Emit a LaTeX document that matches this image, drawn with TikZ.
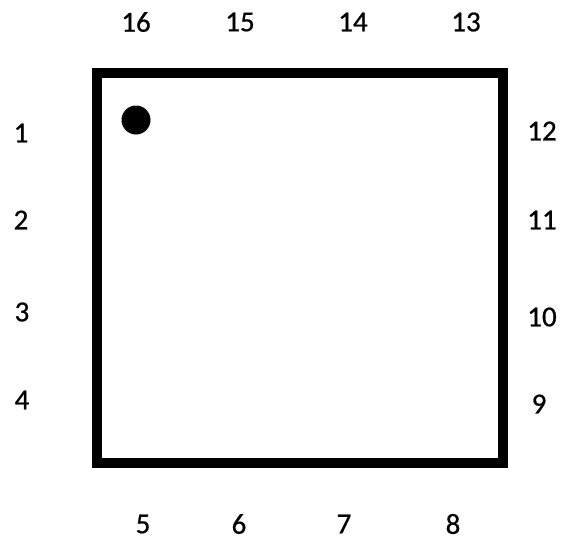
\documentclass[tikz,border=0pt]{standalone}
\usepackage{fontspec}
\setmainfont{Carlito}
\newfontfamily\pinfont{Carlito}[FakeBold=0.7]
\begin{document}
\begin{tikzpicture}[x=1pt,y=-1pt,
  pin/.style={font=\pinfont\fontsize{29}{32}\selectfont, inner sep=0pt, anchor=center}]
\useasboundingbox (0,0) rectangle (562,543);
\draw[line width=10pt] (97,73) rectangle (503,463);
\fill (136,120) circle (14.5);
\node[pin] (p1) at (21,133) {1};
\node[pin] (p2) at (21,220) {2};
\node[pin] (p3) at (22,312) {3};
\node[pin] (p4) at (22,400) {4};
\node[pin] (p5) at (143,524) {5};
\node[pin] (p6) at (239,524) {6};
\node[pin] (p7) at (344,524) {7};
\node[pin] (p8) at (453,524) {8};
\node[pin] (p9) at (539,404) {9};
\node[pin] (p10) at (542,317) {10};
\node[pin] (p11) at (542,220) {11};
\node[pin] (p12) at (542,131) {12};
\node[pin] (p13) at (466,22) {13};
\node[pin] (p14) at (353,22) {14};
\node[pin] (p15) at (240,22) {15};
\node[pin] (p16) at (136,22) {16};
\end{tikzpicture}
\end{document}
